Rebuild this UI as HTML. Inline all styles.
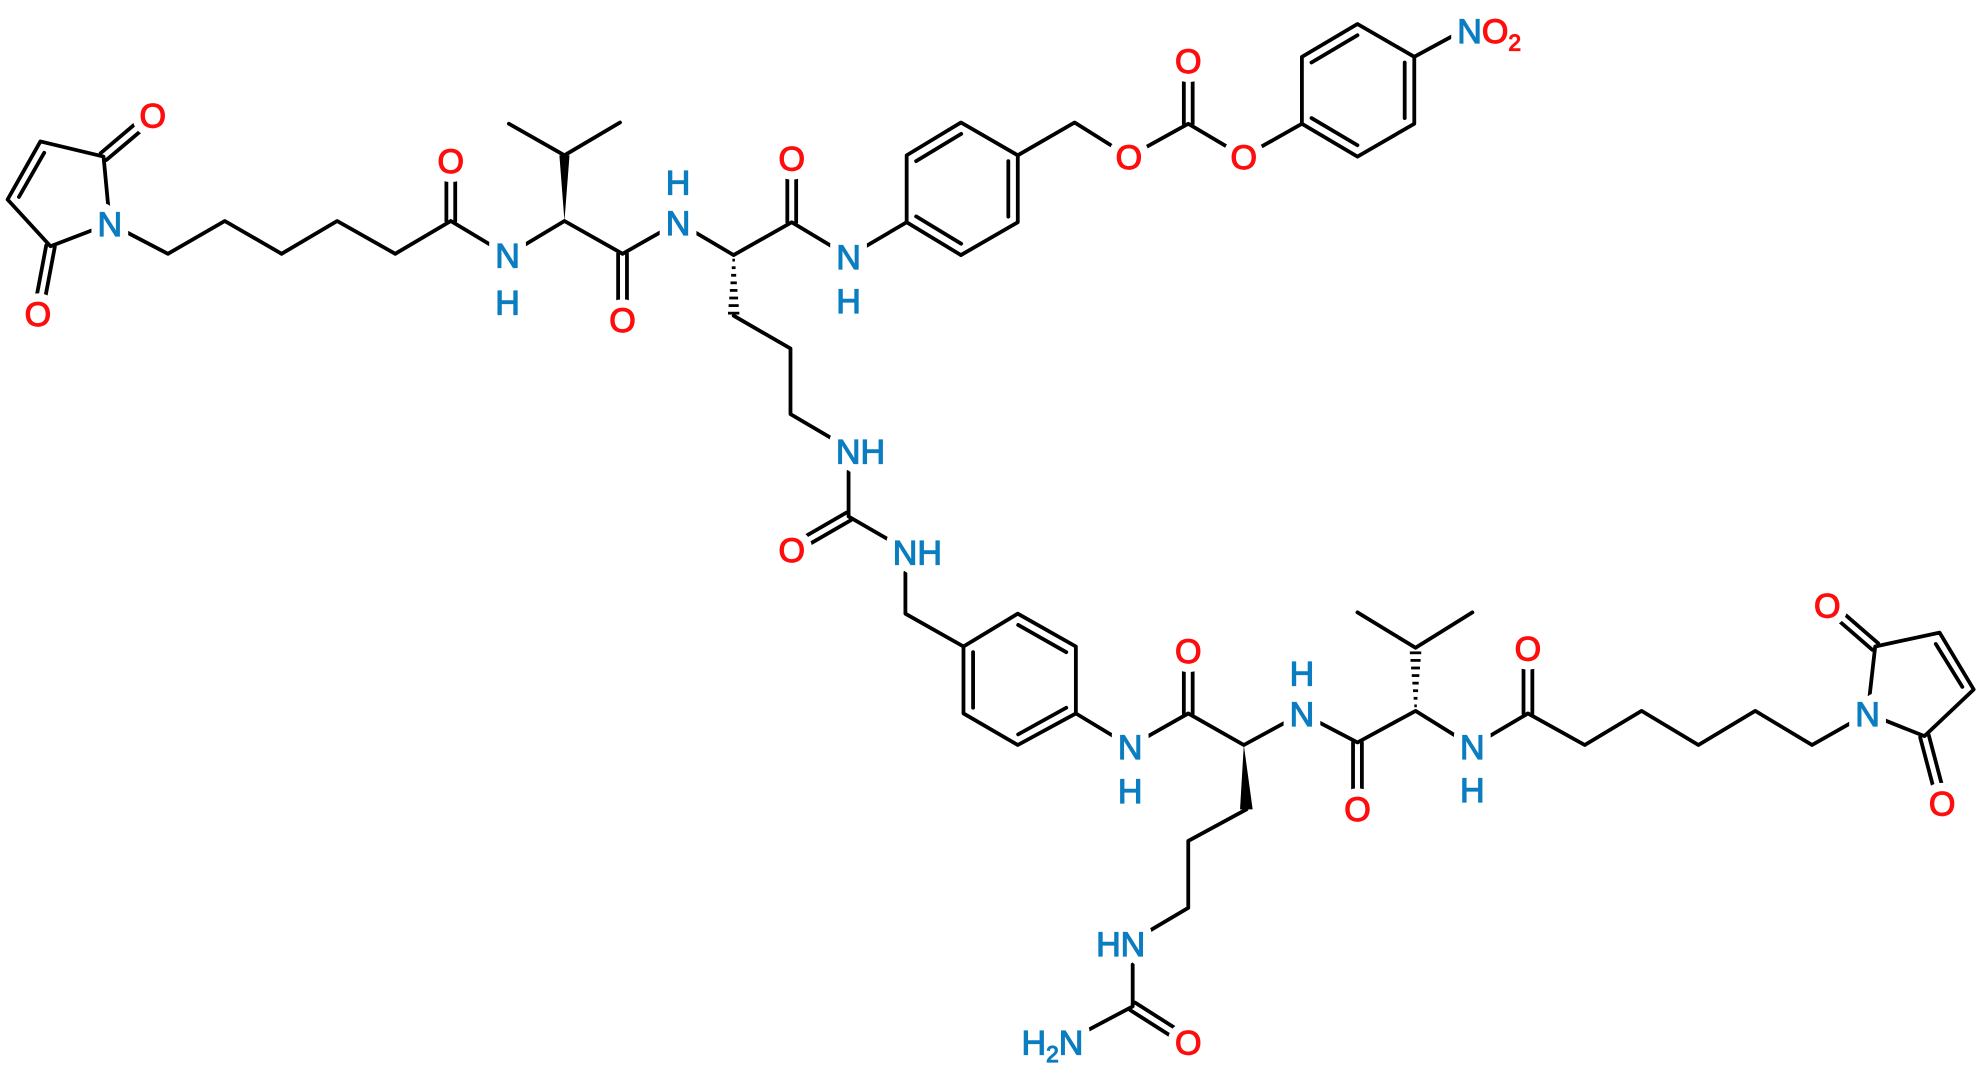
<!DOCTYPE html>
<html><head><meta charset="utf-8"><style>
html,body{margin:0;padding:0;background:#fff;}
svg{display:block;}
text{font-family:"Liberation Sans",Arial,sans-serif;font-size:27px;}
.bg text,.bg tspan{fill:#fff;stroke:#fff;stroke-width:14px;stroke-linejoin:round;}
.fg text{stroke-width:0.9px;}
.fg .o{fill:#ff0d0d;stroke:#ff0d0d}.fg .n{fill:#0b7dc0;stroke:#0b7dc0}
</style></head><body>
<svg width="1980" height="1067" viewBox="0 0 1568 845" preserveAspectRatio="none" xmlns="http://www.w3.org/2000/svg">
<g stroke="#000" stroke-width="3" fill="none" stroke-linecap="round" stroke-linejoin="round">
<polyline points="87,177 82,124 32,112 6,158 40,195 87,177"/>
<line x1="35" y1="121" x2="15" y2="156"/>
<line x1="84.3" y1="126.7" x2="123.3" y2="93.7"/><line x1="79.7" y1="121.3" x2="118.7" y2="88.3"/>
<line x1="43.4" y1="195.6" x2="33.4" y2="248.6"/><line x1="36.6" y1="194.4" x2="26.6" y2="247.4"/>
<polyline points="87,177 133,201 178,175 223,201 267,175 313,201 357,175 402,202 447,175 493,201 537,176 581,202 627,176 672,203 718,176"/>
<line x1="353.5" y1="175" x2="353.5" y2="127"/><line x1="360.5" y1="175" x2="360.5" y2="127"/>
<polyline points="403,98 447,123 491,97"/>
<line x1="489.5" y1="201" x2="489.5" y2="253"/><line x1="496.5" y1="201" x2="496.5" y2="253"/>
<line x1="623.5" y1="176" x2="623.5" y2="125"/><line x1="630.5" y1="176" x2="630.5" y2="125"/>
<polygon points="718,123 761,97 806,123 806,176 761,202 718,176"/>
<line x1="725.5" y1="127.6" x2="761.2" y2="106"/><line x1="798.5" y1="127.6" x2="798.5" y2="171.6"/><line x1="761.2" y1="193" x2="725.5" y2="171.4"/>
<polyline points="806,123 851,97 894,124 941,98 985,124 1031,98"/>
<line x1="937.5" y1="98" x2="937.5" y2="48"/><line x1="944.5" y1="98" x2="944.5" y2="48"/>
<polygon points="1031,45 1075,19 1120,45 1120,98 1075,124 1031,98"/>
<line x1="1038.6" y1="49.5" x2="1075" y2="27.9"/><line x1="1112.4" y1="49.5" x2="1112.4" y2="93.5"/><line x1="1075" y1="115" x2="1038.6" y2="93.5"/>
<line x1="1120" y1="45" x2="1155" y2="26"/>
<polyline points="581,250 626,276 626,328 672,355 672,409 717,435 717,486 763,512"/>
<line x1="673.75" y1="412" x2="628.75" y2="438"/><line x1="670.25" y1="406" x2="625.25" y2="432"/>
<polygon points="763,512 806,486 852,512 852,565 806,590 763,565"/>
<line x1="806.3" y1="494.9" x2="844.4" y2="516.5"/><line x1="770.6" y1="516.5" x2="770.6" y2="560.5"/><line x1="806.3" y1="581.6" x2="844.4" y2="560.5"/>
<polyline points="852,565 895,591 941,565 985,590 1031,565 1075,588 1121,563 1166,591 1210,565 1255,590 1300,563 1345,590 1390,563 1435,590 1479,565"/>
<line x1="937.5" y1="565" x2="937.5" y2="515"/><line x1="944.5" y1="565" x2="944.5" y2="515"/>
<line x1="1071.5" y1="588" x2="1071.5" y2="640"/><line x1="1078.5" y1="588" x2="1078.5" y2="640"/>
<line x1="1206.5" y1="565" x2="1206.5" y2="513"/><line x1="1213.5" y1="565" x2="1213.5" y2="513"/>
<polyline points="1075,485 1121,513 1166,485"/>
<polyline points="987,641 941,666 941,719 897,745 897,797 848,823"/>
<line x1="895.1" y1="800" x2="939.1" y2="828"/><line x1="898.9" y1="794" x2="942.9" y2="822"/>
<polyline points="1479,565 1485,512 1536,501 1563,546 1524,583 1479,565"/>
<line x1="1533" y1="510" x2="1554" y2="544"/>
<line x1="1487.3" y1="509.4" x2="1449.3" y2="476.4"/><line x1="1482.7" y1="514.6" x2="1444.7" y2="481.6"/>
<line x1="1527.4" y1="582.1" x2="1541.4" y2="635.1"/><line x1="1520.6" y1="583.9" x2="1534.6" y2="636.9"/>
</g>
<polygon points="447,175 443,123 451,123" fill="#000"/>
<polygon points="985,590 982,641 992,641" fill="#000"/>
<g stroke="#000" stroke-width="2.2">
<line x1="580" y1="206" x2="582" y2="206"/><line x1="579.5" y1="212" x2="582.5" y2="212"/><line x1="579" y1="218" x2="583" y2="218"/><line x1="578.5" y1="224" x2="583.5" y2="224"/><line x1="578" y1="230" x2="584" y2="230"/><line x1="577.5" y1="236" x2="584.5" y2="236"/><line x1="577" y1="242" x2="585" y2="242"/><line x1="576.5" y1="248" x2="585.5" y2="248"/>
<line x1="1120" y1="559" x2="1122" y2="559"/><line x1="1119.5" y1="553" x2="1122.5" y2="553"/><line x1="1119" y1="547" x2="1123" y2="547"/><line x1="1118.5" y1="541" x2="1123.5" y2="541"/><line x1="1118" y1="535" x2="1124" y2="535"/><line x1="1117.5" y1="529" x2="1124.5" y2="529"/><line x1="1117" y1="523" x2="1125" y2="523"/><line x1="1116.5" y1="517" x2="1125.5" y2="517"/>
</g>
<g class="bg">
<g text-anchor="middle">
<text x="121" y="101">O</text><text x="30" y="258">O</text><text x="87" y="187">N</text>
<text x="357" y="137">O</text><text x="402" y="212">N</text><text x="402" y="249">H</text>
<text x="493" y="263">O</text><text x="537" y="186">N</text><text x="537" y="154">H</text>
<text x="627" y="135">O</text><text x="672" y="213">N</text><text x="672" y="248">H</text>
<text x="894" y="134">O</text><text x="941" y="58">O</text><text x="985" y="134">O</text>
<text x="627" y="445">O</text><text x="895" y="601">N</text><text x="895" y="636">H</text>
<text x="941" y="525">O</text><text x="1031" y="575">N</text><text x="1031" y="543">H</text>
<text x="1075" y="650">O</text><text x="1166" y="601">N</text><text x="1166" y="635">H</text>
<text x="1210" y="523">O</text><text x="1479" y="575">N</text><text x="1447" y="489">O</text>
<text x="1538" y="646">O</text><text x="941" y="835">O</text>
</g>
<text x="662" y="367">NH</text>
<text x="707" y="447">NH</text>
<text x="907" y="757" text-anchor="end">HN</text>
<text x="858" y="835" text-anchor="end">H<tspan font-size="18" dy="6">2</tspan><tspan dy="-6">N</tspan></text>
<text x="1154" y="34">NO<tspan font-size="18" dy="6">2</tspan></text>
</g>
<g class="fg">
<g text-anchor="middle">
<text class="o" x="121" y="101">O</text><text class="o" x="30" y="258">O</text><text class="n" x="87" y="187">N</text>
<text class="o" x="357" y="137">O</text><text class="n" x="402" y="212">N</text><text class="n" x="402" y="249">H</text>
<text class="o" x="493" y="263">O</text><text class="n" x="537" y="186">N</text><text class="n" x="537" y="154">H</text>
<text class="o" x="627" y="135">O</text><text class="n" x="672" y="213">N</text><text class="n" x="672" y="248">H</text>
<text class="o" x="894" y="134">O</text><text class="o" x="941" y="58">O</text><text class="o" x="985" y="134">O</text>
<text class="o" x="627" y="445">O</text><text class="n" x="895" y="601">N</text><text class="n" x="895" y="636">H</text>
<text class="o" x="941" y="525">O</text><text class="n" x="1031" y="575">N</text><text class="n" x="1031" y="543">H</text>
<text class="o" x="1075" y="650">O</text><text class="n" x="1166" y="601">N</text><text class="n" x="1166" y="635">H</text>
<text class="o" x="1210" y="523">O</text><text class="n" x="1479" y="575">N</text><text class="o" x="1447" y="489">O</text>
<text class="o" x="1538" y="646">O</text><text class="o" x="941" y="835">O</text>
</g>
<text class="n" x="662" y="367">NH</text>
<text class="n" x="707" y="447">NH</text>
<text class="n" x="907" y="757" text-anchor="end">HN</text>
<text class="n" x="858" y="835" text-anchor="end">H<tspan font-size="18" dy="6">2</tspan><tspan dy="-6">N</tspan></text>
<text class="n" x="1154" y="34">N<tspan fill="#ff0d0d" stroke="#ff0d0d">O</tspan><tspan fill="#ff0d0d" stroke="#ff0d0d" font-size="18" dy="6">2</tspan></text>
</g>
</svg>
</body></html>
